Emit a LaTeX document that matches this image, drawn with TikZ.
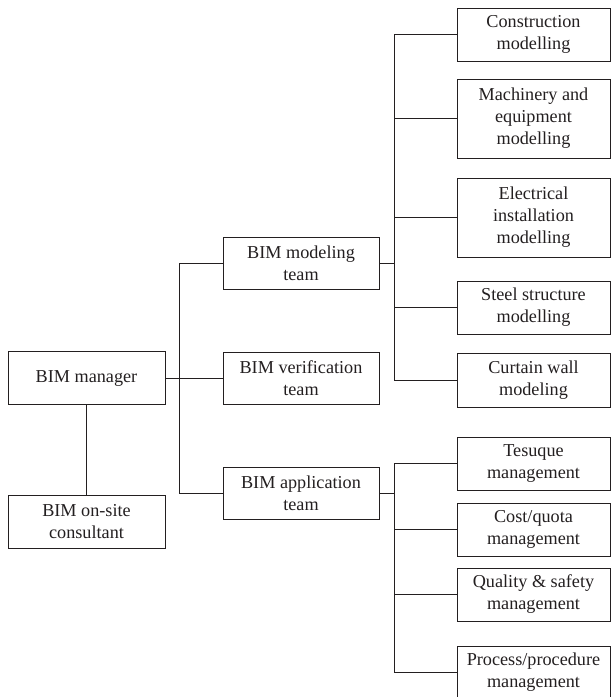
\documentclass[tikz,border=0pt]{standalone}
\usepackage{fontspec}
\setmainfont{Liberation Serif}
\definecolor{ink}{HTML}{231F20}
\begin{document}
\begin{tikzpicture}[x=1pt,y=1pt,
  box/.style={draw=ink,line width=1pt,text=ink,inner sep=0pt,align=center,
    font=\fontsize{18.2}{22}\selectfont},
  lbox/.style={box,minimum width=157pt,minimum height=53pt},
  mbox/.style={box,minimum width=156pt,minimum height=52pt},
  rbox/.style={box,minimum width=153pt},
  link/.style={draw=ink,line width=1pt}]
\useasboundingbox (0,0) rectangle (611,-697);
\begin{scope}
\clip (0,0) rectangle (611,-697);
% left column
\node[lbox] (mgr) at (86.5,-378) {BIM manager};
\node[lbox] (cons) at (86.5,-521.5) {BIM on-site\\consultant};
% middle column
\node[mbox] (model) at (301,-263) {BIM modeling\\team};
\node[mbox] (verif) at (301,-378) {BIM verification\\team};
\node[mbox] (app) at (301,-493) {BIM application\\team};
% right column, modelling
\node[rbox,minimum height=53pt] (c1) at (533.5,-34.5) {Construction\\modelling};
\node[rbox,minimum height=79pt] (c2) at (533.5,-118.5) {Machinery and\\equipment\\modelling};
\node[rbox,minimum height=79pt] (c3) at (533.5,-217.5) {Electrical\\installation\\modelling};
\node[rbox,minimum height=53pt] (c4) at (533.5,-307.5) {Steel structure\\modelling};
\node[rbox,minimum height=54pt] (c5) at (533.5,-380) {Curtain wall\\modeling};
% right column, application
\node[rbox,minimum height=53pt] (a1) at (533.5,-463.5) {Tesuque\\management};
\node[rbox,minimum height=53pt] (a2) at (533.5,-529.5) {Cost/quota\\management};
\node[rbox,minimum height=53pt] (a3) at (533.5,-594.5) {Quality \& safety\\management};
\node[rbox,minimum height=53pt] (a4) at (533.5,-672.5) {Process/procedure\\management};
% connectors
\coordinate (lt) at (179,-378);
\coordinate (mb) at (394,-263);
\coordinate (ab) at (394,-493);
\draw[link] (mgr.south) -- (cons.north);
\draw[link] (mgr.east) -- (verif.west);
\draw[link] (lt) |- (model.west);
\draw[link] (lt) |- (app.west);
\draw[link] (model.east) -- (mb);
\draw[link] (app.east) -- (ab);
\foreach \n in {c1,c2,c3,c4,c5} \draw[link] (mb) |- (\n.west);
\foreach \n in {a1,a2,a3,a4} \draw[link] (ab) |- (\n.west);
\end{scope}
\end{tikzpicture}
\end{document}
